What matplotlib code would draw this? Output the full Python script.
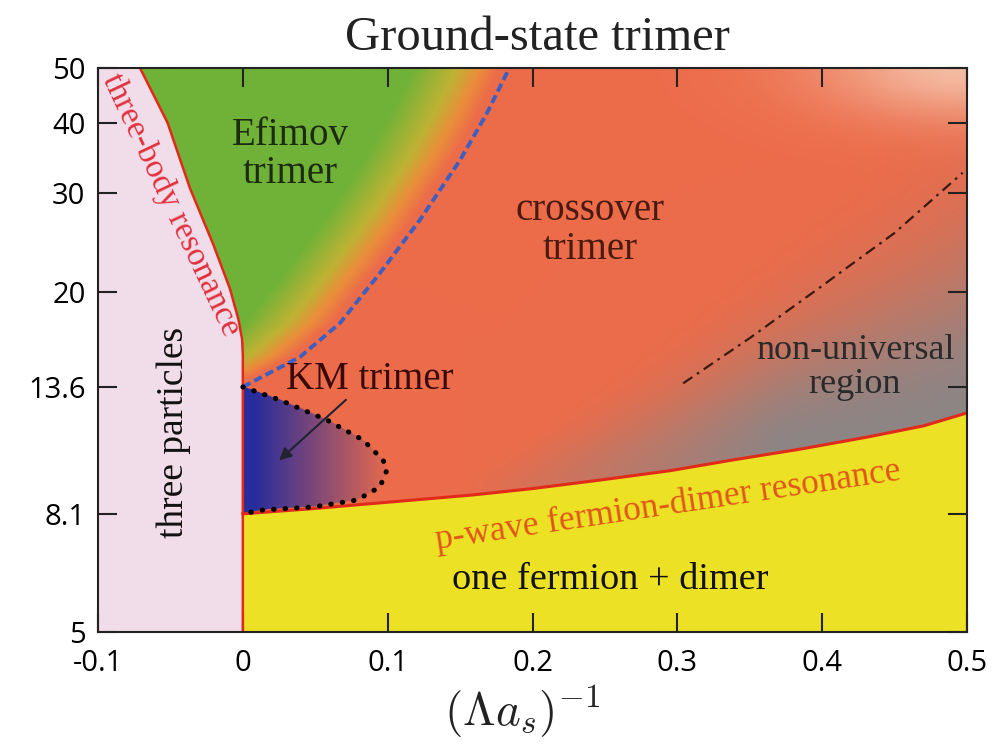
import numpy as np
import matplotlib
matplotlib.use("Agg")
import matplotlib.pyplot as plt
from matplotlib.path import Path
from matplotlib.ticker import NullLocator

# boundary curves: x = (Lambda a_s)^-1, y = mass ratio
three_body_x = [-0.071, -0.052, -0.0365, -0.0206, -0.0089, -0.003, -0.0005, 0.0, 0.0]
three_body_y = [50, 40, 30.6, 24.4, 20.3, 17.9, 16.5, 15.5, 5]

efimov_x = [0.0, 0.0395, 0.0671, 0.0947, 0.1223, 0.1499, 0.1686, 0.184]
efimov_y = [13.6, 15.37, 17.65, 21.65, 26.9, 34.3, 41.6, 50]

pwave_x = [0.0, 0.05, 0.09, 0.159, 0.2, 0.247, 0.295, 0.338, 0.385, 0.431, 0.47, 0.5]
pwave_y = [8.1, 8.28, 8.45, 8.75, 8.98, 9.3, 9.66, 10.09, 10.55, 11.08, 11.6, 12.23]

km_x = [0.0, 0.0256, 0.0581, 0.083, 0.0968, 0.0995, 0.0947, 0.0788, 0.0484, 0.0139, 0.0]
km_y = [13.6, 12.89, 11.88, 10.95, 10.09, 9.69, 9.04, 8.57, 8.33, 8.23, 8.1]

nonuniv_x = [0.304, 0.35, 0.396, 0.45, 0.497]
nonuniv_y = [13.8, 16.6, 20.2, 25.5, 32.6]

x_ticks = [-0.1, 0.0, 0.1, 0.2, 0.3, 0.4, 0.5]
x_tick_labels = ["-0.1", "0", "0.1", "0.2", "0.3", "0.4", "0.5"]
y_ticks = [5, 8.1, 13.6, 20, 30, 40, 50]
y_tick_labels = ["5", "8.1", "13.6", "20", "30", "40", "50"]

XMIN, XMAX, YMIN, YMAX = -0.1, 0.5, 5, 50

ORANGE = np.array([236, 108, 74]) / 255
GREEN = np.array([112, 178, 56]) / 255
OLIVE = np.array([190, 178, 52]) / 255
AMBER = np.array([234, 142, 58]) / 255
GRAY = np.array([136, 134, 136]) / 255
PEACH = np.array([248, 222, 200]) / 255
BLUE = np.array([40, 44, 156]) / 255
PINK = "#f1dde9"
YELLOW = "#ece124"
RED = "#e02a1a"
SERIF = "Liberation Serif"


def _mix(img, col, w):
    w = w[..., None]
    return img * (1 - w) + col * w


def _background():
    """Smooth colour field behind the phase boundaries (x, log10 y grid)."""
    nx, ny = 1200, 900
    xs = np.linspace(XMIN, XMAX, nx)
    ls = np.linspace(np.log10(YMIN), np.log10(YMAX), ny)
    X, L = np.meshgrid(xs, ls)
    img = np.ones((ny, nx, 3)) * ORANGE

    # grey non-universal corner, hugging the p-wave line on the right
    lpw = np.interp(X, pwave_x, np.log10(pwave_y))
    h = np.clip(L - lpw, 0, None)
    hs = 0.05 + 0.75 * np.clip(X - 0.18, 0, None)
    g = np.clip((X - 0.15) / 0.22, 0, 1) * np.exp(-(h / np.maximum(hs, 1e-3)) ** 2)
    img = _mix(img, GRAY, 0.95 * g)

    # light top-right corner
    w = np.exp(-((XMAX - X) / 0.1) ** 2 - ((np.log10(YMAX) - L) / 0.09) ** 2)
    img = _mix(img, PEACH, 0.7 * w)

    pts = np.column_stack([X.ravel(), L.ravel()])

    # Efimov (green) region, fading to orange towards the dashed line
    poly = list(zip(efimov_x, np.log10(efimov_y)))
    poly += list(zip(three_body_x[:-1], np.log10(three_body_y[:-1])))
    inside = Path(poly).contains_points(pts).reshape(X.shape)
    d = np.interp(L, np.log10(efimov_y), efimov_x) - X
    stops = [0.006, 0.02, 0.036, 0.066]
    cols = [ORANGE, AMBER, OLIVE, GREEN]
    ramp = np.stack(
        [np.interp(d, stops, [c[i] for c in cols]) for i in range(3)], axis=-1
    )
    img[inside] = ramp[inside]

    # KM trimer (blue) region
    inside = Path(list(zip(km_x, np.log10(km_y)))).contains_points(pts).reshape(X.shape)
    t = np.clip((X - 0.008) / 0.095, 0, 1)
    km = BLUE * (1 - t[..., None]) + ORANGE * t[..., None]
    img[inside] = km[inside]
    return img


plt.rcParams["mathtext.fontset"] = "cm"
fig = plt.figure(figsize=(10.01, 7.45), dpi=100)
rect = [98 / 1001, 1 - 632 / 745, 869 / 1001, 564 / 745]

ax_bg = fig.add_axes(rect, zorder=0)
ax_bg.imshow(
    _background(),
    extent=(XMIN, XMAX, np.log10(YMIN), np.log10(YMAX)),
    origin="lower",
    aspect="auto",
    interpolation="bilinear",
)
ax_bg.set_xlim(XMIN, XMAX)
ax_bg.set_ylim(np.log10(YMIN), np.log10(YMAX))
ax_bg.axis("off")

ax = fig.add_axes(rect, zorder=1)
ax.patch.set_alpha(0)
ax.set_yscale("log")
ax.set_xlim(XMIN, XMAX)
ax.set_ylim(YMIN, YMAX)

# three particles (pink) and one fermion + dimer (yellow)
ax.fill_betweenx(three_body_y, XMIN, three_body_x, color=PINK, lw=0)
ax.fill_between(pwave_x, YMIN, pwave_y, color=YELLOW, lw=0)

ax.plot(three_body_x, three_body_y, color=RED, lw=1.8)
ax.plot(pwave_x, pwave_y, color=RED, lw=2.2)
ax.plot(efimov_x, efimov_y, color="#3f5fc0", lw=2.8, dashes=(2.2, 1.1))
ax.plot(km_x, km_y, color="black", lw=3.6, dashes=(0.1, 2.2),
        dash_capstyle="round")
ax.plot(nonuniv_x, nonuniv_y, color="#3a1a10", lw=1.6,
        dashes=(5, 2.5, 1.2, 2.5))

ax.annotate("", xy=(0.0236, 10.0), xytext=(0.0726, 13.0),
            arrowprops=dict(arrowstyle="-|>", color="#222233", lw=1.5,
                            mutation_scale=18))

# region labels
ax.text(0.0326, 35.1, "Efimov\ntrimer", family=SERIF, fontsize=28,
        color="#1c2a10", ha="center", va="center", linespacing=1.05)
ax.text(0.2397, 25.8, "crossover\ntrimer", family=SERIF, fontsize=28,
        color="#4a1a10", ha="center", va="center", linespacing=1.05)
ax.text(0.0878, 14.0, "KM trimer", family=SERIF, fontsize=28,
        color="#3a0a0a", ha="center", va="center")
ax.text(0.4226, 14.7, "non-universal\nregion", family=SERIF, fontsize=26,
        color="#2a2a2a", ha="center", va="center", linespacing=1.05)
ax.text(-0.048, 11.3, "three particles", family=SERIF, fontsize=27,
        color="#111111", ha="center", va="center", rotation=90)
ax.text(0.2535, 6.18, "one fermion + dimer", family=SERIF, fontsize=27.5,
        color="#111111", ha="center", va="center")
ax.text(-0.0496, 28.6, "three-body resonance", family=SERIF, fontsize=24,
        color="#e0303c", ha="center", va="center", rotation=-64.7,
        rotation_mode="anchor")
ax.text(0.2935, 8.38, "p-wave fermion-dimer resonance", family=SERIF,
        fontsize=25.5, color="#e0561a", ha="center", va="center", rotation=8.5,
        rotation_mode="anchor")

ax.set_xticks(x_ticks)
ax.set_xticklabels(x_tick_labels, family="Open Sans", fontsize=21)
ax.set_yticks(y_ticks)
ax.set_yticklabels(y_tick_labels, family="Open Sans", fontsize=21)
ax.yaxis.set_minor_locator(NullLocator())
ax.tick_params(direction="in", top=True, right=True, length=14, width=1.5,
               color="#222222")
ax.tick_params(axis="x", pad=12)
ax.tick_params(axis="y", pad=9)
for sp in ax.spines.values():
    sp.set_linewidth(1.5)
    sp.set_color("#222222")

fig.text(537 / 1001, 1 - 38 / 745, "Ground-state trimer", family=SERIF,
         fontsize=35, ha="center", va="center", color="#222222")
fig.text(522 / 1001, 1 - 712 / 745, r"$(\Lambda a_s)^{-1}$", fontsize=34,
         ha="center", va="center", color="#222222")

fig.savefig("out.png", dpi=100)
